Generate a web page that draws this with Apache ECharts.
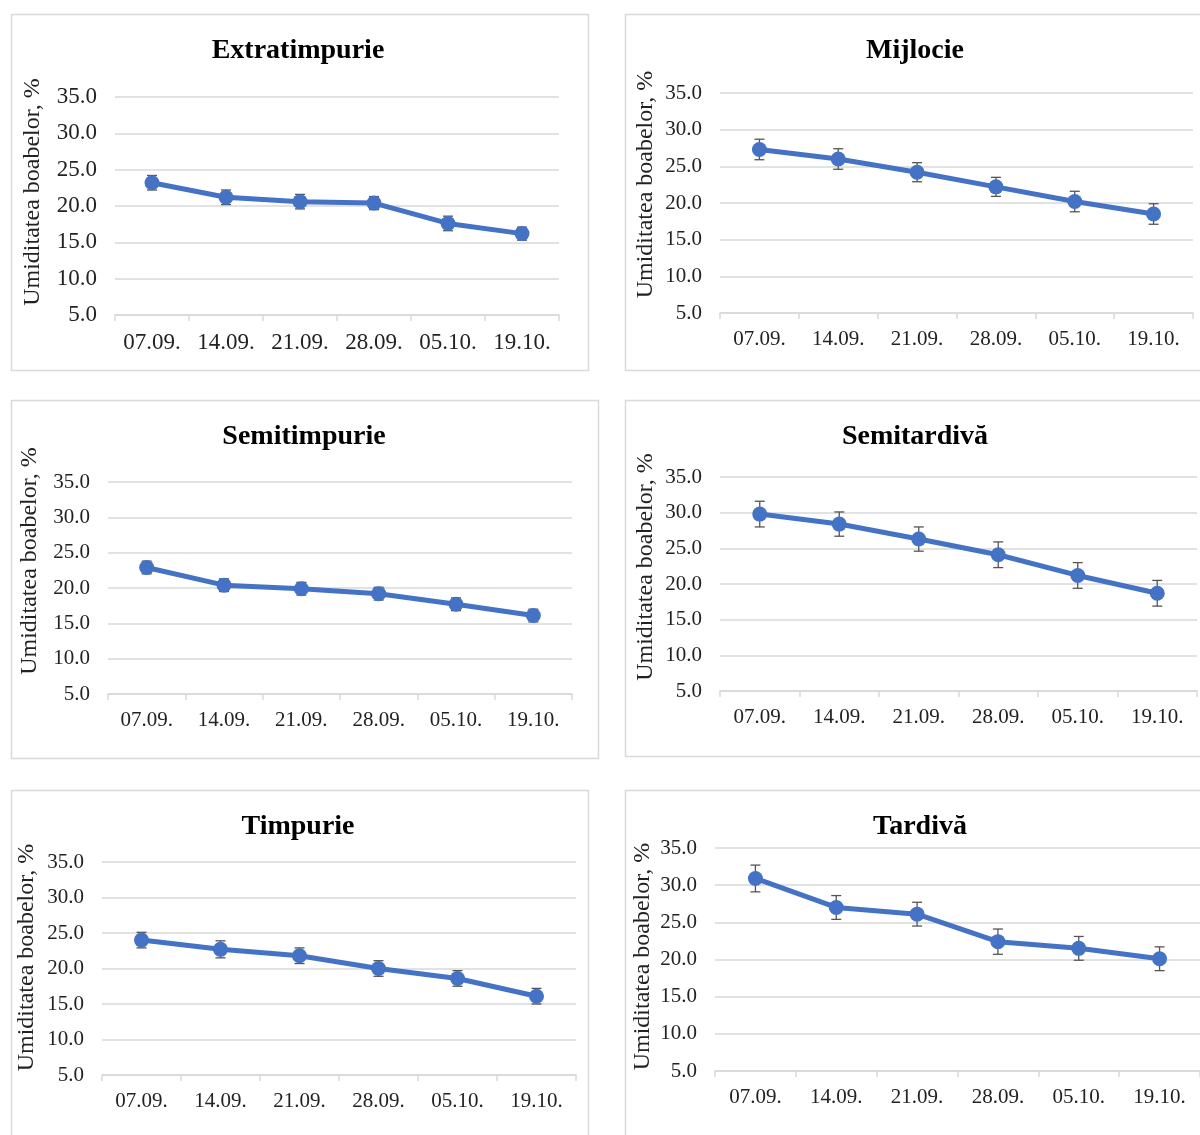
<!DOCTYPE html>
<html>
<head>
<meta charset="utf-8">
<script src="https://cdn.jsdelivr.net/npm/echarts@6/dist/echarts.min.js"></script>
<style>
html,body{margin:0;padding:0;background:#fff;}
#chart{width:1200px;height:1135px;}
</style>
</head>
<body>
<div id="chart"></div>
<script>
// ---- Data ----
const categories = ['07.09.', '14.09.', '21.09.', '28.09.', '05.10.', '19.10.'];
const yTicks = [5, 10, 15, 20, 25, 30, 35];
const yAxisName = 'Umiditatea boabelor, %';

const titles = ['Extratimpurie', 'Mijlocie', 'Semitimpurie', 'Semitardivă', 'Timpurie', 'Tardivă'];

const extratimpurie = [23.2, 21.2, 20.6, 20.4, 17.6, 16.2];
const extratimpurieErr = [1.0, 1.0, 1.0, 0.9, 1.0, 0.9];

const mijlocie = [27.3, 26.0, 24.2, 22.2, 20.2, 18.5];
const mijlocieErr = [1.4, 1.4, 1.3, 1.3, 1.4, 1.4];

const semitimpurie = [22.9, 20.4, 19.9, 19.2, 17.7, 16.1];
const semitimpurieErr = [0.9, 0.9, 0.9, 0.9, 0.9, 0.9];

const semitardiva = [29.8, 28.4, 26.3, 24.1, 21.2, 18.7];
const semitardivaErr = [1.8, 1.7, 1.7, 1.8, 1.8, 1.8];

const timpurie = [24.0, 22.7, 21.8, 20.0, 18.6, 16.1];
const timpurieErr = [1.1, 1.2, 1.1, 1.1, 1.1, 1.1];

const tardiva = [30.9, 27.0, 26.1, 22.4, 21.5, 20.1];
const tardivaErr = [1.8, 1.6, 1.6, 1.7, 1.6, 1.6];

const seriesValues = [extratimpurie, mijlocie, semitimpurie, semitardiva, timpurie, tardiva];
const seriesErrors = [extratimpurieErr, mijlocieErr, semitimpurieErr, semitardivaErr, timpurieErr, tardivaErr];

// ---- Layout (positions/styles) ----
const panels = [
  {box:[11,14,577,356],  grid:{left:115, top:97,  width:444, height:218}, titleX:298, titleY:37,  font:23, nameGap:70, namePad:28},
  {box:[625,14,600,356], grid:{left:720, top:93,  width:473, height:220}, titleX:915, titleY:37,  font:21, nameGap:62, namePad:37},
  {box:[11,400,587,358], grid:{left:108, top:482, width:464, height:212}, titleX:304, titleY:423, font:21, nameGap:66, namePad:54},
  {box:[625,400,600,356],grid:{left:720, top:477, width:477, height:214}, titleX:915, titleY:423, font:21, nameGap:62, namePad:34},
  {box:[11,790,577,360], grid:{left:102, top:862, width:474, height:213}, titleX:298, titleY:813, font:21, nameGap:63, namePad:22},
  {box:[625,790,600,360],grid:{left:715, top:848, width:492, height:223}, titleX:920, titleY:813, font:21, nameGap:60, namePad:6}
];

const FONT = '"Liberation Serif", "Times New Roman", serif';
const BLUE = '#4472C4';
const GRID = '#d9d9d9';

const option = {
  backgroundColor: '#fff',
  animation: false,
  title: [], grid: [], xAxis: [], yAxis: [], series: [],
  graphic: []
};

panels.forEach((p, i) => {
  option.graphic.push({
    type: 'rect', z: -10,
    shape: {x: p.box[0] + 0.5, y: p.box[1] + 0.5, width: p.box[2], height: p.box[3]},
    style: {fill: '#fff', stroke: GRID, lineWidth: 1.5}
  });
  option.title.push({
    text: titles[i], left: p.titleX, top: p.titleY, textAlign: 'center', padding: 0,
    textStyle: {fontFamily: FONT, fontWeight: 'bold', fontSize: 28, color: '#000'}
  });
  option.grid.push(Object.assign({containLabel: false}, p.grid));
  option.xAxis.push({
    type: 'category', gridIndex: i, data: categories, boundaryGap: true,
    axisLine: {lineStyle: {color: GRID, width: 1.5}},
    axisTick: {show: true, length: 6, lineStyle: {color: GRID, width: 1.5}},
    axisLabel: {fontFamily: FONT, fontSize: p.font, color: '#222', margin: 16, interval: 0},
    splitLine: {show: false}
  });
  option.yAxis.push({
    type: 'value', gridIndex: i, min: yTicks[0], max: yTicks[yTicks.length - 1], interval: 5,
    name: yAxisName, nameLocation: 'middle', nameGap: p.nameGap, nameRotate: 90,
    nameTextStyle: {fontFamily: FONT, fontSize: 24, color: '#222', padding: [0, 0, 0, p.namePad]},
    axisLine: {show: false}, axisTick: {show: false},
    axisLabel: {fontFamily: FONT, fontSize: p.font, color: '#222', margin: 18, formatter: v => v.toFixed(1)},
    splitLine: {lineStyle: {color: GRID, width: 1.5}}
  });
  const vals = seriesValues[i], errs = seriesErrors[i];
  option.series.push({
    type: 'custom', xAxisIndex: i, yAxisIndex: i, z: 2,
    data: vals.map((v, k) => [k, v - errs[k], v + errs[k]]),
    renderItem: (params, api) => {
      const lo = api.coord([api.value(0), api.value(1)]);
      const hi = api.coord([api.value(0), api.value(2)]);
      const hw = 5;
      const st = {stroke: '#555', lineWidth: 1.3};
      return {type: 'group', children: [
        {type: 'line', shape: {x1: lo[0], y1: lo[1], x2: hi[0], y2: hi[1]}, style: st},
        {type: 'line', shape: {x1: lo[0] - hw, y1: lo[1], x2: lo[0] + hw, y2: lo[1]}, style: st},
        {type: 'line', shape: {x1: hi[0] - hw, y1: hi[1], x2: hi[0] + hw, y2: hi[1]}, style: st}
      ]};
    }
  });
  option.series.push({
    type: 'line', xAxisIndex: i, yAxisIndex: i, z: 3,
    data: vals, symbol: 'circle', symbolSize: 15,
    lineStyle: {color: BLUE, width: 5}, itemStyle: {color: BLUE}
  });
});

const chart = echarts.init(document.getElementById('chart'), null, {renderer: 'canvas'});
chart.setOption(option);
</script>
</body>
</html>
